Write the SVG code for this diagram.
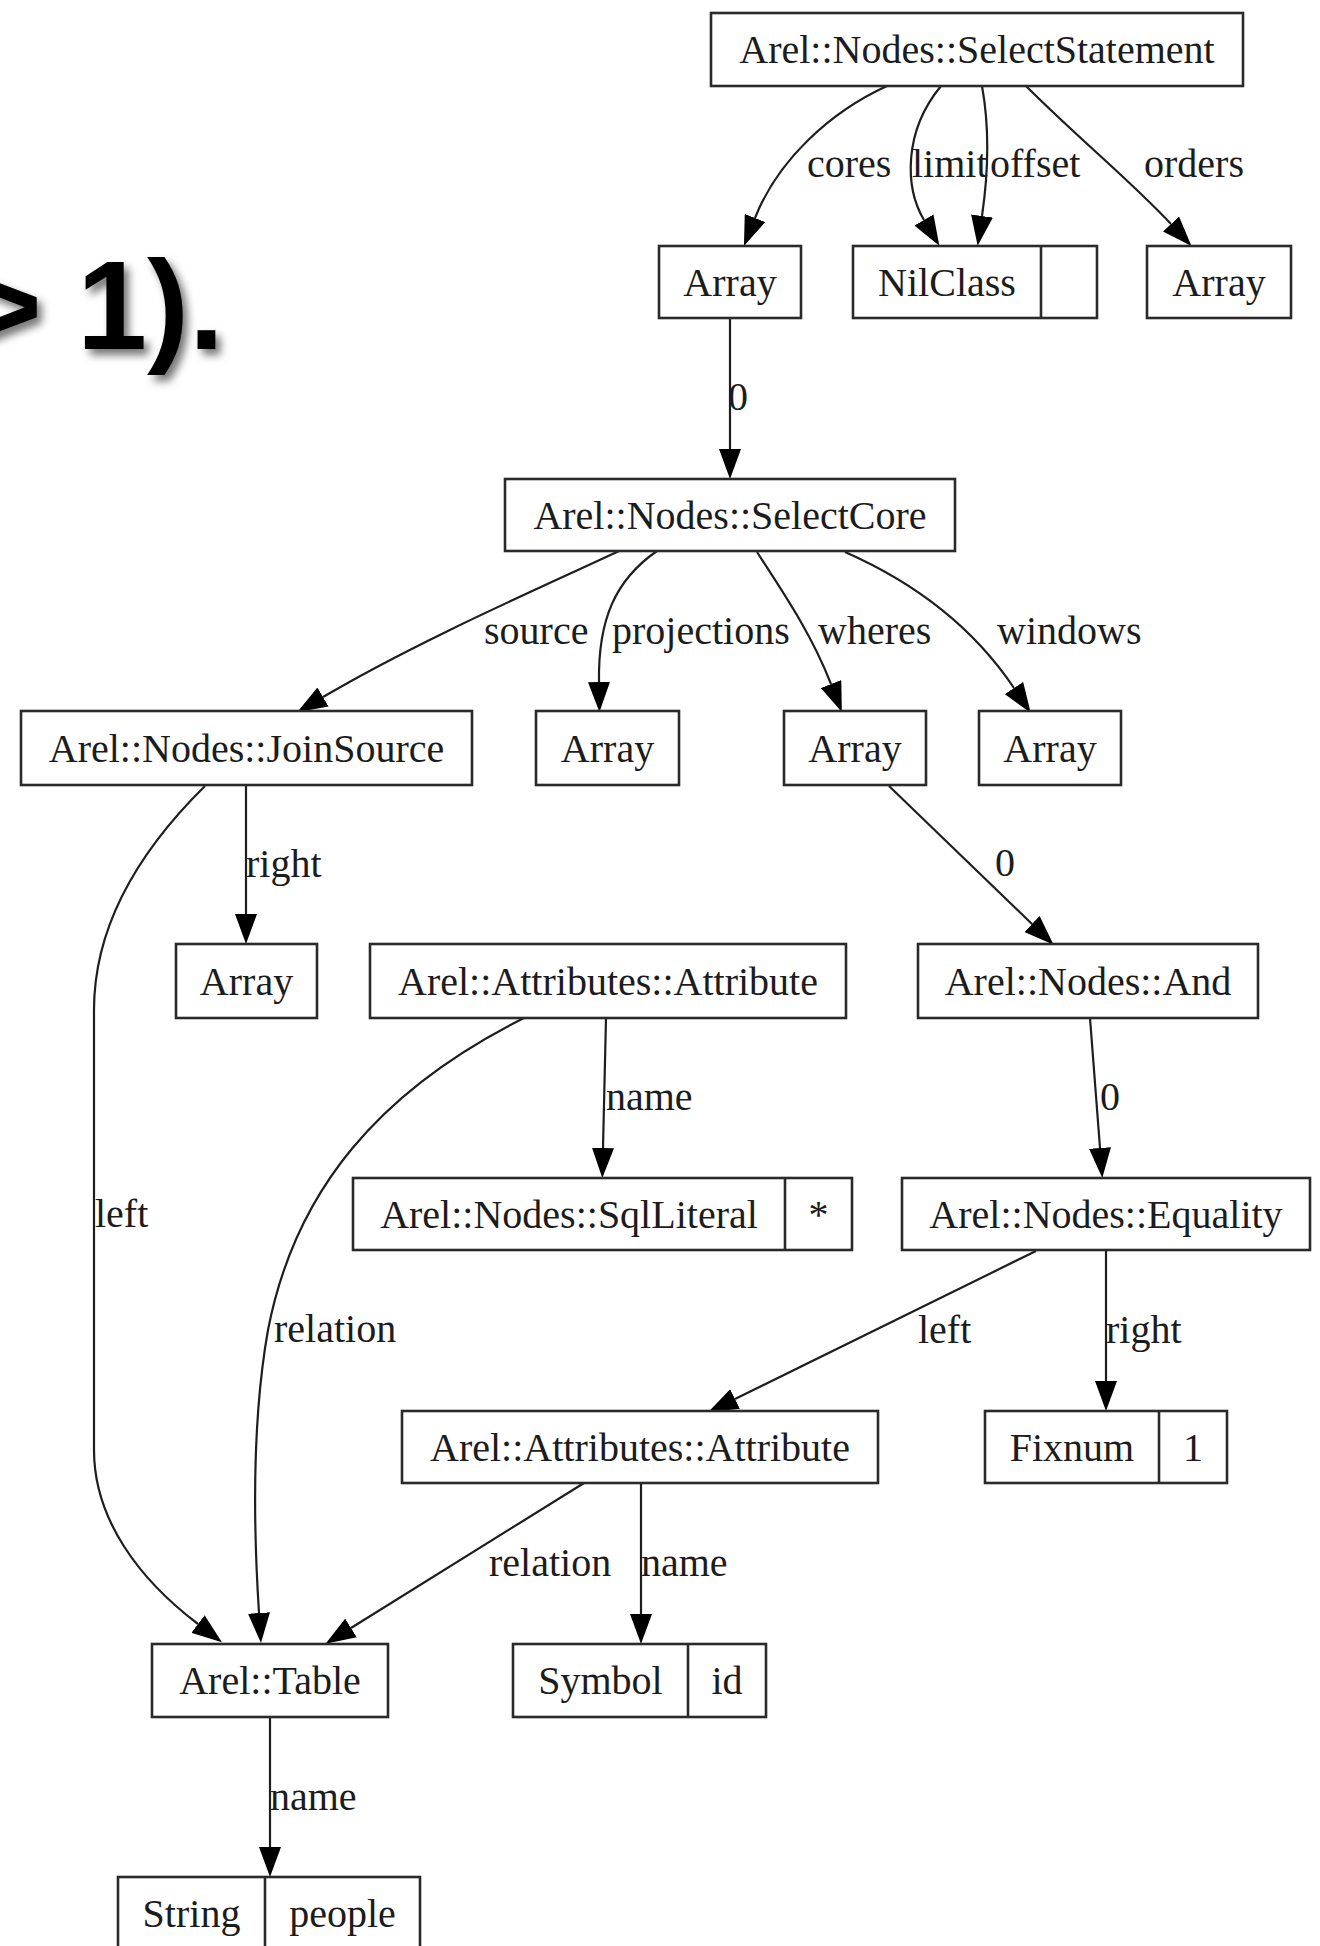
<svg xmlns="http://www.w3.org/2000/svg" width="1320" height="1946" viewBox="0 0 1320 1946">
<style>
.box{fill:#fff;stroke:#2a2a2a;stroke-width:2.6}
.div{stroke:#2a2a2a;stroke-width:2.6}
.t{font-family:"Liberation Serif","Times New Roman",serif;font-size:40px;fill:#1c1c1c;text-anchor:middle}
.lbl{font-family:"Liberation Serif","Times New Roman",serif;font-size:40px;fill:#1c1c1c}
.e{fill:none;stroke:#1e1e1e;stroke-width:2.2;marker-end:url(#ah)}
.big{font-family:"Liberation Sans",Arial,sans-serif;font-weight:bold;font-size:126px;fill:#000;text-anchor:end}
</style>
<defs>
<marker id="ah" markerUnits="userSpaceOnUse" viewBox="0 0 30 22" markerWidth="30" markerHeight="22" refX="0" refY="11" orient="auto">
<path d="M0,0 L30,11 L0,22 z" fill="#000"/>
</marker>
<filter id="sh" x="-20%" y="-20%" width="150%" height="150%">
<feDropShadow dx="5" dy="6" stdDeviation="4" flood-color="#000" flood-opacity="0.55"/>
</filter>
</defs>
<rect width="1320" height="1946" fill="#fff"/>
<text class="big" x="224" y="349" filter="url(#sh)">&gt; 1).</text>

<g id="connectors">
<path class="e" d="M887,86 C830,112 778,160 755,218"/>
<text class="lbl" x="807" y="177">cores</text>
<path class="e" d="M941,86 C903,132 905,188 924,220"/>
<text class="lbl" x="912" y="177">limit</text>
<path class="e" d="M982,86 C990,130 988,175 982,216"/>
<text class="lbl" x="990" y="177">offset</text>
<path class="e" d="M1026,86 C1080,140 1130,180 1171,224"/>
<text class="lbl" x="1144" y="177">orders</text>
<path class="e" d="M730,318 L730,449"/>
<text class="lbl" x="728" y="410">0</text>
<path class="e" d="M619,551 C540,588 420,640 323,697"/>
<text class="lbl" x="484" y="644">source</text>
<path class="e" d="M657,551 C615,580 598,620 599,682"/>
<text class="lbl" x="612" y="644">projections</text>
<path class="e" d="M757,552 C785,595 812,635 831,684"/>
<text class="lbl" x="818" y="644">wheres</text>
<path class="e" d="M845,552 C920,585 975,630 1014,688"/>
<text class="lbl" x="997" y="644">windows</text>
<path class="e" d="M246,785 L246,914"/>
<text class="lbl" x="246" y="877">right</text>
<path class="e" d="M205,786 C135,855 94,930 94,1010 L94,1450 C94,1520 140,1580 198,1624"/>
<text class="lbl" x="95" y="1227">left</text>
<path class="e" d="M524,1018 C380,1090 295,1190 268,1330 C252,1420 253,1520 259,1613"/>
<text class="lbl" x="274" y="1342">relation</text>
<path class="e" d="M606,1018 L603,1148"/>
<text class="lbl" x="606" y="1110">name</text>
<path class="e" d="M889,786 L1032,924"/>
<text class="lbl" x="995" y="876">0</text>
<path class="e" d="M1090,1018 L1100,1148"/>
<text class="lbl" x="1100" y="1110">0</text>
<path class="e" d="M1036,1251 L735,1399"/>
<text class="lbl" x="918" y="1343">left</text>
<path class="e" d="M1106,1250 L1106,1381"/>
<text class="lbl" x="1106" y="1343">right</text>
<path class="e" d="M584,1483 L351,1628"/>
<text class="lbl" x="489" y="1576">relation</text>
<path class="e" d="M641,1483 L641,1614"/>
<text class="lbl" x="641" y="1576">name</text>
<path class="e" d="M270,1717 L270,1847"/>
<text class="lbl" x="270" y="1810">name</text>
</g>

<g id="n_selectstatement"><rect class="box" x="711" y="13" width="532" height="73"/><text class="t" x="977" y="63">Arel::Nodes::SelectStatement</text></g>
<g id="n_array_cores"><rect class="box" x="659" y="246" width="142" height="72"/><text class="t" x="730" y="296">Array</text></g>
<g id="n_nilclass"><rect class="box" x="853" y="246" width="244" height="72"/><line class="div" x1="1041" y1="246" x2="1041" y2="318"/><text class="t" x="947" y="296">NilClass</text></g>
<g id="n_array_orders"><rect class="box" x="1147" y="246" width="144" height="72"/><text class="t" x="1219" y="296">Array</text></g>
<g id="n_selectcore"><rect class="box" x="505" y="479" width="450" height="72"/><text class="t" x="730" y="529">Arel::Nodes::SelectCore</text></g>
<g id="n_joinsource"><rect class="box" x="21" y="711" width="451" height="74"/><text class="t" x="246.5" y="762">Arel::Nodes::JoinSource</text></g>
<g id="n_array_proj"><rect class="box" x="536" y="711" width="143" height="74"/><text class="t" x="607.5" y="762">Array</text></g>
<g id="n_array_wheres"><rect class="box" x="784" y="711" width="142" height="74"/><text class="t" x="855" y="762">Array</text></g>
<g id="n_array_windows"><rect class="box" x="979" y="711" width="142" height="74"/><text class="t" x="1050" y="762">Array</text></g>
<g id="n_array_right"><rect class="box" x="176" y="944" width="141" height="74"/><text class="t" x="246.5" y="995">Array</text></g>
<g id="n_attribute1"><rect class="box" x="370" y="944" width="476" height="74"/><text class="t" x="608" y="995">Arel::Attributes::Attribute</text></g>
<g id="n_and"><rect class="box" x="918" y="944" width="340" height="74"/><text class="t" x="1088" y="995">Arel::Nodes::And</text></g>
<g id="n_sqlliteral"><rect class="box" x="353" y="1178" width="499" height="72"/><line class="div" x1="785" y1="1178" x2="785" y2="1250"/><text class="t" x="569" y="1228">Arel::Nodes::SqlLiteral</text><text class="t" x="818.5" y="1228">*</text></g>
<g id="n_equality"><rect class="box" x="902" y="1178" width="408" height="72"/><text class="t" x="1106" y="1228">Arel::Nodes::Equality</text></g>
<g id="n_attribute2"><rect class="box" x="402" y="1411" width="476" height="72"/><text class="t" x="640" y="1461">Arel::Attributes::Attribute</text></g>
<g id="n_fixnum"><rect class="box" x="985" y="1411" width="242" height="72"/><line class="div" x1="1159" y1="1411" x2="1159" y2="1483"/><text class="t" x="1072" y="1461">Fixnum</text><text class="t" x="1193" y="1461">1</text></g>
<g id="n_table"><rect class="box" x="152" y="1644" width="236" height="73"/><text class="t" x="270" y="1694">Arel::Table</text></g>
<g id="n_symbol"><rect class="box" x="513" y="1644" width="253" height="73"/><line class="div" x1="688" y1="1644" x2="688" y2="1717"/><text class="t" x="600.5" y="1694">Symbol</text><text class="t" x="727" y="1694">id</text></g>
<g id="n_string"><rect class="box" x="118" y="1877" width="302" height="73"/><line class="div" x1="265" y1="1877" x2="265" y2="1950"/><text class="t" x="191.5" y="1927">String</text><text class="t" x="342.5" y="1927">people</text></g>
</svg>
